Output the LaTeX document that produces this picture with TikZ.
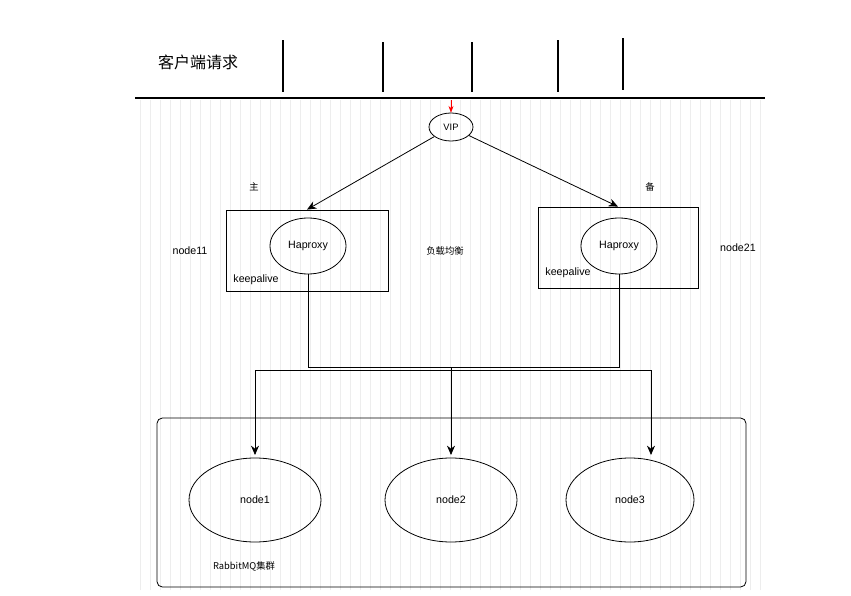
\documentclass[tikz,border=0pt]{standalone}
\usepackage{fontspec}
\setmainfont{Liberation Sans}
\newfontfamily\cjk{Noto Sans CJK SC}
\usetikzlibrary{arrows.meta,shapes.geometric}
\begin{document}
\begin{tikzpicture}[x=0.75pt,y=-0.75pt,
  lab/.style={font=\fontsize{8}{9}\selectfont},
  el/.style={draw,semithick,ellipse,inner sep=0pt},
  box/.style={draw,semithick},
  arr/.style={semithick,-{Stealth[length=7pt,width=6pt]}},
  tick/.style={line width=1.6pt}]
\useasboundingbox (0,0) rectangle (851,596);
\fill[white] (0,0) rectangle (851,596);
\draw[black!7,line width=0.5pt,step=10] (135,100) grid (765,590);
\node[font=\cjk\fontsize{12}{14}\selectfont] (title) at (198,62) {客户端请求};
\foreach \x/\a/\b in {283/40/92,383/42/92,472/42/92,558/40/92,623/38/90}{
  \draw[tick] (\x,\a) -- (\x,\b);}
\draw[line width=1.6pt] (135,98) -- (765,98);
\coordinate (rtop) at (451,100);
\node[el,minimum width=33pt,minimum height=21pt] (vip) at (451,127) {\fontsize{7}{8}\selectfont VIP};
\draw[red,-{Stealth[length=5pt]}] (rtop) -- (vip.north);
\node[box,minimum width=121.5pt,minimum height=60.75pt] (bl) at (307,250.5) {};
\node[box,minimum width=120pt,minimum height=60.75pt] (br) at (618,247.5) {};
\node[el,minimum width=57pt,minimum height=42pt] (hl) at (308,246) {\fontsize{8}{9}\selectfont Haproxy};
\node[el,minimum width=57pt,minimum height=42pt] (hr) at (619,246) {\fontsize{8}{9}\selectfont Haproxy};
\draw[arr] (vip) -- (bl.north);
\draw[arr] (vip) -- (br.north);
\node[font=\cjk\fontsize{7}{8}\selectfont] (zhu) at (254,187) {主};
\node[font=\cjk\fontsize{7}{8}\selectfont] (bei) at (650,187) {备};
\node[lab] (kl) at (256,280) {keepalive};
\node[lab] (kr) at (568,273) {keepalive};
\node[lab] (n11) at (190,251) {node11};
\node[lab] (n21) at (738,248) {node21};
\node[font=\cjk\fontsize{7}{8}\selectfont] (fz) at (445,251) {负载均衡};
\node[draw,semithick,rounded corners=4pt,minimum width=441.75pt,minimum height=126.75pt] (cl) at (451.5,502.5) {};
\node[el,minimum width=99pt,minimum height=63pt] (n1) at (255,500) {\fontsize{8}{9}\selectfont node1};
\node[el,minimum width=99pt,minimum height=63pt] (n2) at (451,500) {\fontsize{8}{9}\selectfont node2};
\node[el,minimum width=96pt,minimum height=63pt] (n3) at (630,500) {\fontsize{8}{9}\selectfont node3};
\node[font=\cjk\fontsize{7}{8}\selectfont] (rq) at (244,566) {RabbitMQ集群};
\coordinate (jl) at (308,367); \coordinate (jr) at (619,367);
\coordinate (j1) at (255,370); \coordinate (j3) at (651,370); \coordinate (j2) at (451,367);
\draw[semithick] (hl.south) -- (jl) -- (jr) -- (hr.south);
\draw[semithick] (j1) -- (j3);
\draw[arr] (j1) -- (255,455);
\draw[arr] (j2) -- (451,455);
\draw[arr] (j3) -- (651,455);
\end{tikzpicture}
\end{document}
